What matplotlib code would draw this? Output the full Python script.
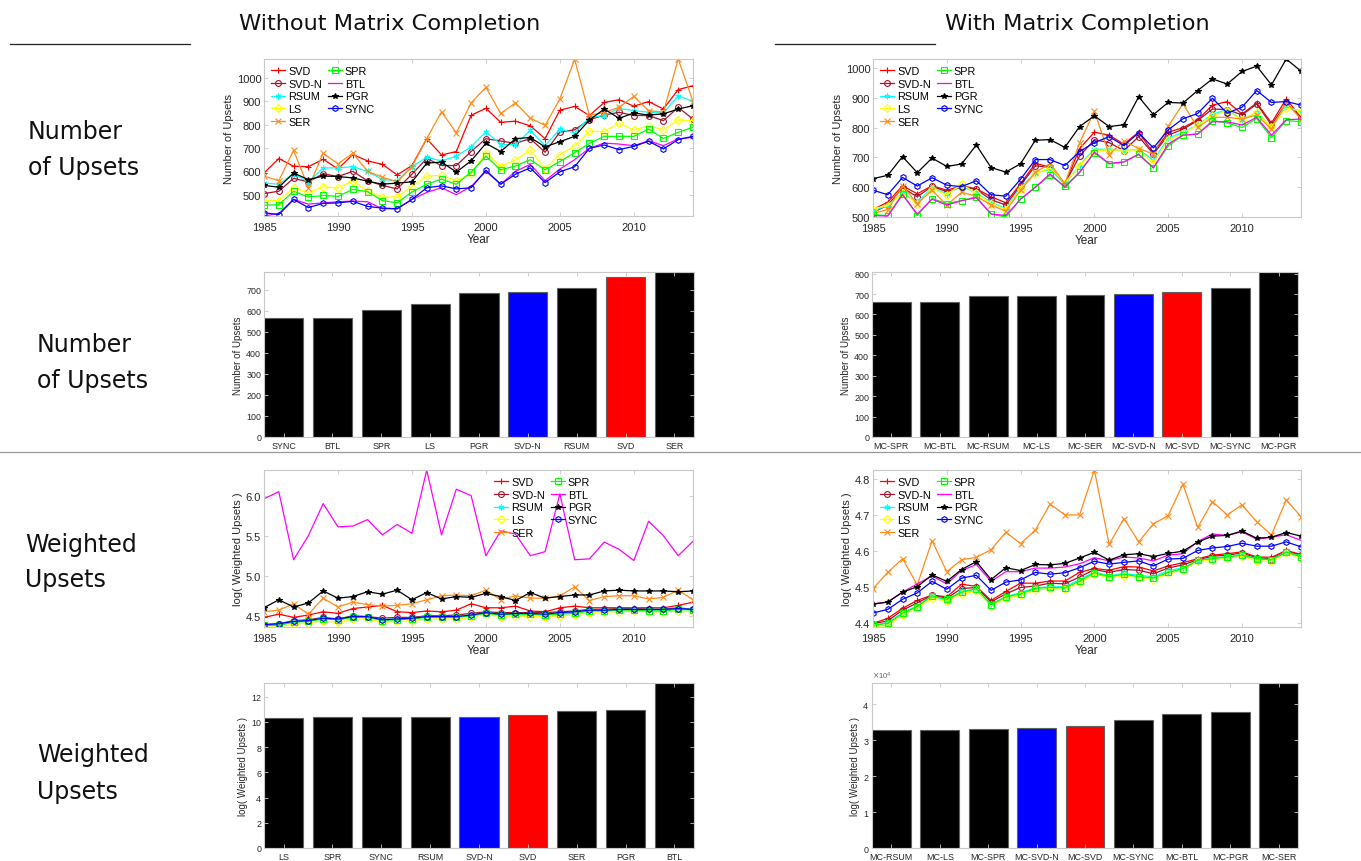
import numpy as np
import matplotlib
matplotlib.use('Agg')
import matplotlib.pyplot as plt
from matplotlib.ticker import ScalarFormatter
from matplotlib.lines import Line2D

plt.rcParams['font.family'] = ['Liberation Sans', 'DejaVu Sans']

years = list(range(1985, 2015))
methods = ['SVD', 'SVD-N', 'RSUM', 'LS', 'SER', 'SPR', 'BTL', 'PGR', 'SYNC']

# ---------------- Without MC : number of upsets ----------------
tl_SVD = [593, 655, 622, 620, 652, 610, 672, 645, 630, 585, 625, 740, 670, 685, 840, 870, 810, 815, 795, 740, 862, 878, 839, 895, 907, 879, 899, 867, 950, 967]
tl_SVDN = [505, 515, 570, 555, 590, 578, 600, 560, 540, 525, 588, 655, 625, 625, 685, 740, 730, 720, 740, 682, 768, 778, 821, 841, 853, 839, 839, 817, 874, 824]
tl_RSUM = [550, 545, 590, 555, 615, 615, 620, 600, 565, 560, 620, 660, 645, 665, 705, 770, 715, 715, 775, 710, 780, 765, 830, 839, 870, 860, 853, 850, 924, 899]
tl_LS = [475, 475, 530, 510, 533, 530, 560, 515, 490, 490, 535, 580, 583, 560, 590, 680, 620, 650, 690, 612, 672, 710, 772, 770, 806, 777, 796, 777, 820, 817]
tl_SER = [580, 560, 690, 530, 678, 632, 678, 600, 575, 555, 620, 740, 855, 765, 893, 960, 848, 893, 828, 797, 910, 1080, 839, 853, 874, 921, 860, 853, 1081, 899]
tl_SPR = [455, 457, 515, 490, 497, 493, 523, 513, 475, 465, 512, 545, 567, 545, 597, 665, 607, 623, 650, 607, 642, 680, 720, 750, 750, 750, 781, 741, 767, 789]
tl_BTL = [409, 420, 480, 460, 465, 470, 473, 470, 440, 440, 480, 510, 530, 500, 535, 600, 545, 600, 630, 560, 610, 650, 699, 721, 717, 710, 731, 710, 739, 746]
tl_PGR = [540, 532, 593, 565, 580, 578, 572, 558, 545, 550, 555, 635, 640, 597, 645, 720, 685, 740, 745, 705, 727, 750, 820, 867, 827, 850, 841, 846, 867, 881]
tl_SYNC = [423, 415, 480, 445, 463, 465, 472, 450, 443, 440, 480, 530, 538, 525, 530, 605, 545, 588, 615, 552, 598, 620, 699, 713, 693, 707, 729, 696, 736, 750]

# ---------------- With MC : number of upsets ----------------
tr_SVD = [525, 550, 605, 578, 605, 590, 605, 595, 568, 548, 612, 680, 668, 610, 730, 785, 775, 745, 785, 715, 785, 800, 827, 876, 888, 846, 883, 816, 897, 835]
tr_SVDN = [515, 540, 598, 568, 603, 585, 600, 593, 558, 540, 607, 672, 667, 612, 705, 760, 750, 723, 770, 712, 775, 795, 824, 863, 861, 843, 880, 809, 883, 835]
tr_RSUM = [520, 540, 580, 550, 598, 578, 605, 580, 550, 528, 600, 648, 660, 610, 675, 728, 728, 722, 728, 690, 765, 785, 809, 845, 861, 827, 852, 804, 872, 854]
tr_LS = [528, 538, 580, 545, 595, 575, 610, 580, 545, 525, 595, 645, 665, 615, 672, 722, 725, 725, 725, 680, 760, 780, 809, 840, 857, 827, 852, 801, 865, 857]
tr_SER = [512, 525, 605, 545, 590, 540, 583, 570, 540, 520, 590, 650, 680, 612, 750, 855, 710, 755, 730, 712, 805, 880, 801, 835, 835, 829, 843, 796, 885, 829]
tr_SPR = [508, 505, 578, 505, 562, 545, 555, 568, 510, 500, 560, 600, 640, 603, 650, 715, 678, 685, 712, 665, 738, 775, 779, 824, 816, 801, 831, 767, 824, 820]
tr_BTL = [505, 503, 575, 510, 560, 540, 555, 565, 510, 505, 560, 600, 645, 600, 650, 718, 680, 685, 710, 665, 745, 775, 779, 820, 820, 809, 835, 775, 827, 829]
tr_PGR = [629, 640, 703, 649, 698, 670, 678, 742, 666, 651, 679, 758, 760, 734, 804, 840, 804, 810, 904, 844, 885, 883, 925, 964, 947, 989, 1007, 944, 1031, 990]
tr_SYNC = [590, 575, 633, 604, 632, 607, 602, 622, 575, 570, 627, 693, 693, 673, 720, 750, 770, 740, 783, 732, 793, 830, 848, 899, 849, 869, 925, 885, 888, 876]

# ---------------- Without MC : log weighted upsets ----------------
bl_SVD = [4.48, 4.52, 4.48, 4.51, 4.55, 4.53, 4.59, 4.61, 4.63, 4.55, 4.54, 4.56, 4.55, 4.57, 4.65, 4.60, 4.60, 4.62, 4.56, 4.55, 4.60, 4.62, 4.60, 4.60, 4.60, 4.60, 4.60, 4.60, 4.63, 4.67]
bl_SVDN = [4.39, 4.40, 4.44, 4.45, 4.48, 4.46, 4.50, 4.49, 4.47, 4.48, 4.48, 4.50, 4.50, 4.51, 4.53, 4.55, 4.54, 4.54, 4.54, 4.54, 4.55, 4.56, 4.58, 4.58, 4.59, 4.59, 4.58, 4.58, 4.60, 4.58]
bl_RSUM = [4.38, 4.39, 4.43, 4.44, 4.47, 4.45, 4.49, 4.48, 4.45, 4.46, 4.47, 4.49, 4.49, 4.49, 4.51, 4.54, 4.52, 4.52, 4.52, 4.51, 4.53, 4.54, 4.57, 4.57, 4.58, 4.58, 4.57, 4.57, 4.59, 4.58]
bl_LS = [4.36, 4.36, 4.40, 4.41, 4.44, 4.42, 4.46, 4.46, 4.42, 4.43, 4.44, 4.46, 4.46, 4.46, 4.48, 4.52, 4.49, 4.50, 4.49, 4.49, 4.50, 4.51, 4.54, 4.55, 4.55, 4.56, 4.55, 4.55, 4.56, 4.55]
bl_SER = [4.55, 4.57, 4.65, 4.52, 4.72, 4.61, 4.67, 4.64, 4.62, 4.63, 4.65, 4.70, 4.75, 4.76, 4.75, 4.82, 4.70, 4.75, 4.72, 4.72, 4.75, 4.86, 4.69, 4.74, 4.75, 4.75, 4.71, 4.73, 4.82, 4.70]
bl_SPR = [4.38, 4.38, 4.42, 4.43, 4.46, 4.45, 4.48, 4.48, 4.44, 4.45, 4.46, 4.48, 4.48, 4.48, 4.50, 4.53, 4.51, 4.52, 4.52, 4.51, 4.52, 4.53, 4.56, 4.56, 4.57, 4.57, 4.56, 4.56, 4.58, 4.57]
bl_BTL = [5.96, 6.05, 5.20, 5.50, 5.90, 5.61, 5.62, 5.70, 5.51, 5.64, 5.53, 6.32, 5.51, 6.08, 6.00, 5.25, 5.56, 5.52, 5.25, 5.30, 6.02, 5.20, 5.21, 5.42, 5.33, 5.19, 5.68, 5.50, 5.25, 5.43]
bl_PGR = [4.60, 4.70, 4.61, 4.66, 4.81, 4.72, 4.74, 4.80, 4.77, 4.82, 4.70, 4.79, 4.71, 4.74, 4.73, 4.78, 4.74, 4.69, 4.79, 4.72, 4.74, 4.76, 4.76, 4.81, 4.82, 4.81, 4.81, 4.81, 4.80, 4.81]
bl_SYNC = [4.39, 4.40, 4.43, 4.44, 4.47, 4.46, 4.49, 4.49, 4.45, 4.46, 4.47, 4.49, 4.49, 4.49, 4.51, 4.54, 4.52, 4.53, 4.53, 4.52, 4.54, 4.55, 4.57, 4.57, 4.58, 4.58, 4.58, 4.58, 4.59, 4.58]

# ---------------- With MC : log weighted upsets ----------------
br_SVD = [4.398, 4.412, 4.440, 4.462, 4.477, 4.472, 4.507, 4.501, 4.462, 4.487, 4.510, 4.510, 4.516, 4.516, 4.540, 4.551, 4.546, 4.556, 4.555, 4.544, 4.558, 4.567, 4.578, 4.588, 4.592, 4.597, 4.583, 4.582, 4.601, 4.590]
br_SVDN = [4.397, 4.405, 4.435, 4.455, 4.476, 4.468, 4.495, 4.498, 4.458, 4.480, 4.498, 4.502, 4.510, 4.508, 4.527, 4.548, 4.540, 4.548, 4.546, 4.536, 4.552, 4.561, 4.575, 4.585, 4.588, 4.594, 4.580, 4.578, 4.598, 4.588]
br_RSUM = [4.393, 4.400, 4.428, 4.447, 4.474, 4.462, 4.488, 4.492, 4.452, 4.472, 4.484, 4.497, 4.500, 4.500, 4.520, 4.542, 4.530, 4.537, 4.532, 4.528, 4.545, 4.553, 4.572, 4.580, 4.584, 4.590, 4.578, 4.575, 4.597, 4.585]
br_LS = [4.388, 4.394, 4.422, 4.442, 4.468, 4.460, 4.481, 4.488, 4.447, 4.468, 4.476, 4.491, 4.495, 4.493, 4.511, 4.535, 4.525, 4.530, 4.525, 4.520, 4.537, 4.548, 4.571, 4.575, 4.580, 4.585, 4.572, 4.571, 4.593, 4.581]
br_SER = [4.495, 4.540, 4.578, 4.505, 4.628, 4.542, 4.575, 4.582, 4.603, 4.652, 4.620, 4.658, 4.730, 4.700, 4.700, 4.825, 4.618, 4.690, 4.625, 4.675, 4.698, 4.786, 4.665, 4.737, 4.700, 4.728, 4.681, 4.644, 4.742, 4.695]
br_SPR = [4.393, 4.398, 4.426, 4.445, 4.475, 4.465, 4.485, 4.495, 4.450, 4.472, 4.480, 4.496, 4.498, 4.497, 4.516, 4.539, 4.528, 4.535, 4.528, 4.525, 4.540, 4.550, 4.574, 4.578, 4.583, 4.588, 4.578, 4.575, 4.596, 4.584]
br_BTL = [4.452, 4.458, 4.485, 4.508, 4.530, 4.508, 4.545, 4.562, 4.515, 4.542, 4.542, 4.552, 4.552, 4.555, 4.564, 4.581, 4.572, 4.583, 4.580, 4.572, 4.588, 4.592, 4.626, 4.647, 4.643, 4.653, 4.632, 4.638, 4.645, 4.629]
br_PGR = [4.452, 4.457, 4.485, 4.500, 4.533, 4.515, 4.548, 4.570, 4.520, 4.553, 4.545, 4.562, 4.561, 4.565, 4.580, 4.596, 4.574, 4.589, 4.592, 4.584, 4.593, 4.599, 4.624, 4.641, 4.643, 4.655, 4.635, 4.638, 4.651, 4.641]
br_SYNC = [4.427, 4.437, 4.465, 4.483, 4.515, 4.493, 4.524, 4.532, 4.490, 4.513, 4.519, 4.540, 4.535, 4.539, 4.553, 4.571, 4.563, 4.568, 4.572, 4.558, 4.577, 4.579, 4.601, 4.608, 4.612, 4.621, 4.613, 4.613, 4.625, 4.611]

# ---------------- Bar charts ----------------
b1_labels = ['SYNC', 'BTL', 'SPR', 'LS', 'PGR', 'SVD-N', 'RSUM', 'SVD', 'SER']
b1_values = [564, 565, 605, 630, 686, 687, 708, 761, 784]
b2_labels = ['MC-SPR', 'MC-BTL', 'MC-RSUM', 'MC-LS', 'MC-SER', 'MC-SVD-N', 'MC-SVD', 'MC-SYNC', 'MC-PGR']
b2_values = [660, 661, 689, 689, 694, 700, 712, 728, 808]
b3_labels = ['LS', 'SPR', 'SYNC', 'RSUM', 'SVD-N', 'SVD', 'SER', 'PGR', 'BTL']
b3_values = [10.32, 10.37, 10.40, 10.40, 10.40, 10.55, 10.84, 10.92, 13.08]
b4_labels = ['MC-RSUM', 'MC-LS', 'MC-SPR', 'MC-SVD-N', 'MC-SVD', 'MC-SYNC', 'MC-BTL', 'MC-PGR', 'MC-SER']
b4_values = [32700, 32700, 33000, 33300, 33800, 35600, 37200, 37700, 45800]

# ---------------- styling ----------------
W, H = 1361, 862
fig = plt.figure(figsize=(W / 100, H / 100), dpi=100)

GRAY = '#c8c8c8'
TXT = '#262626'
styles = {
    'SVD': dict(color='#ff0000', marker='+', mfc='none'),
    'SVD-N': dict(color='#a2142f', marker='o', mfc='none'),
    'RSUM': dict(color='#00ffff', marker=(6, 2, 0), mfc='none'),
    'LS': dict(color='#ffff00', marker='D', mfc='none', ms=3.6),
    'SER': dict(color='#ff8c1a', marker='x', mfc='none'),
    'SPR': dict(color='#00ff00', marker='s', mfc='none'),
    'BTL': dict(color='#ff00ff', marker='None'),
    'PGR': dict(color='#000000', marker='*', mfc='#000000'),
    'SYNC': dict(color='#0000ff', marker='h', mfc='none'),
}


def ax_rect(x0, y0, x1, y1):
    return [x0 / W, (H - y1) / H, (x1 - x0) / W, (y1 - y0) / H]


def style_axes(ax, fs):
    for s in ax.spines.values():
        s.set_color(GRAY)
        s.set_linewidth(0.8)
    ax.tick_params(direction='in', length=3, width=0.6, color=GRAY,
                   labelcolor=TXT, labelsize=fs, top=True, right=True, pad=2)


def line_panel(rect, data, ylabel, yticks, ylim, leg_kw):
    ax = fig.add_axes(rect)
    for m in methods:
        st = dict(styles[m])
        ms = st.pop('ms', 4.2)
        ax.plot(years, data[m], lw=0.9, ms=ms, mew=0.8, label=m, **st)
    ax.set_xlim(1985, 2014)
    ax.set_ylim(*ylim)
    ax.set_xticks([1985, 1990, 1995, 2000, 2005, 2010])
    ax.set_yticks(yticks)
    style_axes(ax, 8)
    ax.tick_params(axis='x', pad=4)
    ax.set_xlabel('Year', fontsize=8.5, color=TXT, labelpad=1)
    ax.set_ylabel(ylabel, fontsize=8, color=TXT, labelpad=2)
    ax.legend(ncol=2, frameon=False, fontsize=7.8, handlelength=1.3,
              handletextpad=0.3, columnspacing=0.5, labelspacing=0.25,
              borderaxespad=0.25, **leg_kw)
    return ax


def bar_panel(rect, labels, values, ylabel, yticks, hi_blue, hi_red, sci=False):
    ax = fig.add_axes(rect)
    x = np.arange(1, len(labels) + 1)
    cols = ['#000000'] * len(labels)
    cols[labels.index(hi_blue)] = '#0000ff'
    cols[labels.index(hi_red)] = '#ff0000'
    ax.bar(x, values, width=0.8, color=cols, edgecolor='#606060', linewidth=0.8)
    ax.set_xlim(0.6, len(labels) + 0.4)
    ax.set_ylim(0, max(values))
    ax.set_xticks(x)
    ax.set_xticklabels(labels)
    ax.set_yticks(yticks)
    style_axes(ax, 6.4)
    ax.tick_params(axis='x', pad=3)
    ax.set_ylabel(ylabel, fontsize=7, color=TXT, labelpad=2)
    if sci:
        fmt = ScalarFormatter(useMathText=True)
        fmt.set_powerlimits((0, 0))
        ax.yaxis.set_major_formatter(fmt)
        ax.yaxis.get_offset_text().set_fontsize(5.5)
        ax.yaxis.get_offset_text().set_color('#666666')
    return ax


tl = dict(zip(methods, [tl_SVD, tl_SVDN, tl_RSUM, tl_LS, tl_SER, tl_SPR, tl_BTL, tl_PGR, tl_SYNC]))
tr = dict(zip(methods, [tr_SVD, tr_SVDN, tr_RSUM, tr_LS, tr_SER, tr_SPR, tr_BTL, tr_PGR, tr_SYNC]))
bl = dict(zip(methods, [bl_SVD, bl_SVDN, bl_RSUM, bl_LS, bl_SER, bl_SPR, bl_BTL, bl_PGR, bl_SYNC]))
br = dict(zip(methods, [br_SVD, br_SVDN, br_RSUM, br_LS, br_SER, br_SPR, br_BTL, br_PGR, br_SYNC]))


def lims(d):
    allv = np.concatenate([np.asarray(v, float) for v in d.values()])
    return allv.min(), allv.max()


line_panel(ax_rect(264, 60, 693, 217), tl, 'Number of Upsets',
           [500, 600, 700, 800, 900, 1000], lims(tl), dict(loc='upper left'))
line_panel(ax_rect(873, 60, 1301, 218), tr, 'Number of Upsets',
           [500, 600, 700, 800, 900, 1000], (500, lims(tr)[1]), dict(loc='upper left'))
line_panel(ax_rect(264, 471, 693, 628), bl, 'log( Weighted Upsets )',
           [4.5, 5, 5.5, 6], lims(bl), dict(loc='upper left', bbox_to_anchor=(0.52, 1.0)))
line_panel(ax_rect(873, 471, 1301, 628), br, 'log( Weighted Upsets )',
           [4.4, 4.5, 4.6, 4.7, 4.8], lims(br), dict(loc='upper left'))

bar_panel(ax_rect(264, 273, 694, 438), b1_labels, b1_values, 'Number of Upsets',
          list(range(0, 701, 100)), 'SVD-N', 'SVD')
bar_panel(ax_rect(872, 273, 1298, 438), b2_labels, b2_values, 'Number of Upsets',
          list(range(0, 801, 100)), 'MC-SVD-N', 'MC-SVD')
bar_panel(ax_rect(264, 684, 694, 849), b3_labels, b3_values, 'log( Weighted Upsets )',
          list(range(0, 13, 2)), 'SVD-N', 'SVD')
bar_panel(ax_rect(872, 684, 1298, 849), b4_labels, b4_values, 'log( Weighted Upsets )',
          [0, 10000, 20000, 30000, 40000], 'MC-SVD-N', 'MC-SVD', sci=True)


# titles, row labels, rules
def ftext(x, y, s, **kw):
    fig.text(x / W, 1 - y / H, s, **kw)


big = dict(fontsize=17, color='#111111', family=['DejaVu Sans'])
ftext(390, 24, 'Without Matrix Completion', ha='center', va='center',
      fontsize=16.2, color='#111111', family=['DejaVu Sans'])
ftext(1077, 24, 'With Matrix Completion', ha='center', va='center',
      fontsize=16.2, color='#111111', family=['DejaVu Sans'])
ftext(28, 132, 'Number', ha='left', va='center', **big)
ftext(28, 168, 'of Upsets', ha='left', va='center', **big)
ftext(37, 345, 'Number', ha='left', va='center', **big)
ftext(37, 381, 'of Upsets', ha='left', va='center', **big)
ftext(25, 545, 'Weighted', ha='left', va='center', **big)
ftext(25, 580, 'Upsets', ha='left', va='center', **big)
ftext(37, 755, 'Weighted', ha='left', va='center', **big)
ftext(37, 792, 'Upsets', ha='left', va='center', **big)

fig.add_artist(Line2D([10 / W, 190 / W], [1 - 45 / H, 1 - 45 / H], color='#222222', lw=0.9))
fig.add_artist(Line2D([775 / W, 935 / W], [1 - 45 / H, 1 - 45 / H], color='#222222', lw=0.9))
fig.add_artist(Line2D([0, 1], [1 - 453 / H, 1 - 453 / H], color='#999999', lw=0.9))

fig.savefig('out.png', dpi=100)
